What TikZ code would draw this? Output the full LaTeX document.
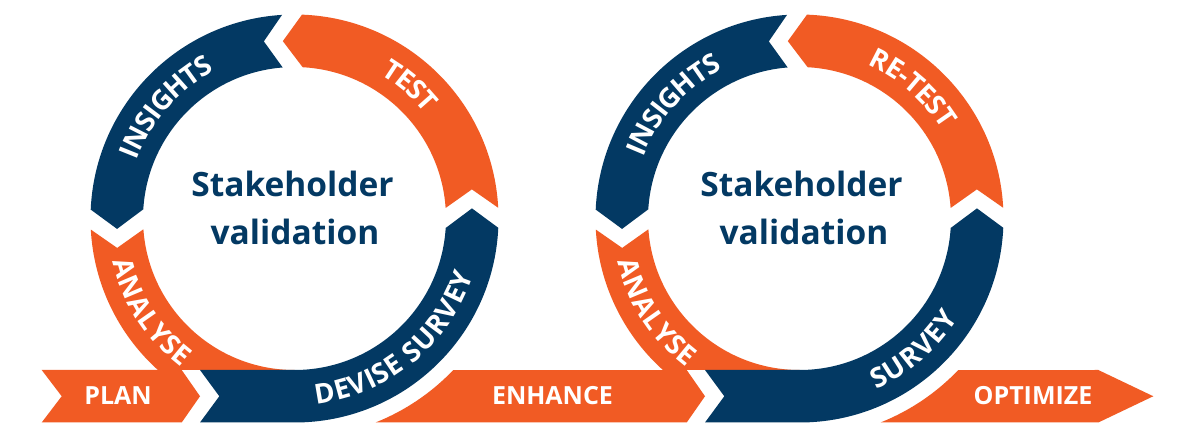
\documentclass[tikz,border=0pt]{standalone}
\usepackage{fontspec}
\setmainfont{Open Sans}
\usetikzlibrary{decorations.text}
\definecolor{corange}{RGB}{241,91,36}
\definecolor{cnavy}{RGB}{3,57,99}
\tikzset{
  orangeseg/.style={fill=corange, draw=none},
  navyseg/.style={fill=cnavy, draw=none},
  ringlabel/.style={decorate, decoration={text along path, text align=center,
      text color=white, raise=-9.6pt,
      text={|\fontsize{27.5}{27.5}\selectfont\bfseries|#1}}},
  centertext/.style={anchor=base, text=cnavy, font=\fontsize{33.5}{33.5}\selectfont\bfseries, inner sep=0pt},
  bannertext/.style={text=white, font=\fontsize{25}{25}\selectfont\bfseries, inner sep=0pt},
}
\begin{document}
\begin{tikzpicture}[x=1pt,y=1pt]
\fill[white] (0,0) rectangle (1200,442);
\useasboundingbox (0,0) rectangle (1200,442);

% ---------- circle 1 ----------
\begin{scope}[shift={(294.5,223.5)}]
  % ENHANCE banner
  \fill[orangeseg] (81.0,-204) arc[start angle=-68.33, end angle=-43.65, radius=219.5]
     -- (392.2,-151.5) -- (410.5,-177.75) -- (392.2,-204) -- cycle;
  % PLAN banner
  \fill[orangeseg] (-252.8,-151.5) -- (-112.8,-151.5) -- (-94.5,-177.75) -- (-112.8,-204)
     -- (-252.8,-204) -- (-232.8,-177.75) -- cycle;
  % TEST
  \fill[orangeseg] (3.009:204) arc[start angle=3.009, end angle=87.891, radius=204]
     -- (93.764:177.754) -- (86.916:151.5) arc[start angle=86.916, end angle=3.984, radius=151.5]
     -- (9.322:179.77) -- cycle;
  % INSIGHTS
  \fill[navyseg] (93.509:204) arc[start angle=93.509, end angle=177.491, radius=204]
     -- (183.364:177.754) -- (176.516:151.5) arc[start angle=176.516, end angle=94.484, radius=151.5]
     -- (99.822:179.77) -- cycle;
  % ANALYSE
  \begin{scope}
    \clip (-300,-151.5) rectangle (300,300);
    \fill[orangeseg] (183.109:204) arc[start angle=183.109, end angle=270, radius=204]
       -- (270:151.5) arc[start angle=270, end angle=184.084, radius=151.5]
       -- (189.422:179.77) -- cycle;
  \end{scope}
  % DEVISE SURVEY
  \fill[navyseg] (-94.5,-151.5) -- (-75.2,-177.75) -- (-94.5,-204) -- (0,-204)
     arc[start angle=270, end angle=357.391, radius=204]
     -- (363.264:177.754) -- (356.416:151.5) arc[start angle=356.416, end angle=270, radius=151.5]
     -- cycle;
  % ring labels
  \path[ringlabel=INSIGHTS] (174:177.5) arc[start angle=174, end angle=104, radius=177.5];
  \path[ringlabel=TEST] (84:177.5) arc[start angle=84, end angle=14, radius=177.5];
  \path[ringlabel=ANALYSE] (178:177.5) arc[start angle=178, end angle=248, radius=177.5];
  \path[ringlabel={DEVISE SURVEY}] (264.5:177.5) arc[start angle=264.5, end angle=354.5, radius=177.5];
  % centre text
  \node[centertext] (s1) at (-2,21.5) {Stakeholder};
  \node[centertext] (v1) at (0.5,-26.5) {validation};
  \node[bannertext] (plan) at (-176.5,-177.5) {PLAN};
  \node[bannertext] (enhance) at (258,-177.5) {ENHANCE};
\end{scope}

% ---------- circle 2 ----------
\begin{scope}[shift={(799.5,223.5)}]
  % OPTIMIZE banner
  \fill[orangeseg] (81.0,-204) arc[start angle=-68.33, end angle=-43.65, radius=219.5]
     -- (298.8,-151.5) -- (353.8,-177.75) -- (298.8,-204) -- cycle;
  % RE-TEST
  \fill[orangeseg] (3.009:204) arc[start angle=3.009, end angle=87.891, radius=204]
     -- (93.764:177.754) -- (86.916:151.5) arc[start angle=86.916, end angle=3.984, radius=151.5]
     -- (9.322:179.77) -- cycle;
  % INSIGHTS
  \fill[navyseg] (93.509:204) arc[start angle=93.509, end angle=177.491, radius=204]
     -- (183.364:177.754) -- (176.516:151.5) arc[start angle=176.516, end angle=94.484, radius=151.5]
     -- (99.822:179.77) -- cycle;
  % ANALYSE
  \begin{scope}
    \clip (-300,-151.5) rectangle (300,300);
    \fill[orangeseg] (183.109:204) arc[start angle=183.109, end angle=270, radius=204]
       -- (270:151.5) arc[start angle=270, end angle=184.084, radius=151.5]
       -- (189.422:179.77) -- cycle;
  \end{scope}
  % SURVEY
  \fill[navyseg] (-94.5,-151.5) -- (-75.2,-177.75) -- (-94.5,-204) -- (0,-204)
     arc[start angle=270, end angle=357.391, radius=204]
     -- (363.264:177.754) -- (356.416:151.5) arc[start angle=356.416, end angle=270, radius=151.5]
     -- cycle;
  % ring labels
  \path[ringlabel=INSIGHTS] (173:177.5) arc[start angle=173, end angle=103, radius=177.5];
  \path[ringlabel=RE-TEST] (84:177.5) arc[start angle=84, end angle=14, radius=177.5];
  \path[ringlabel=ANALYSE] (178:177.5) arc[start angle=178, end angle=248, radius=177.5];
  \path[ringlabel=SURVEY] (266:177.5) arc[start angle=266, end angle=356, radius=177.5];
  % centre text
  \node[centertext] (s2) at (2,21.5) {Stakeholder};
  \node[centertext] (v2) at (4.5,-26.5) {validation};
  \node[bannertext] (optimize) at (233.5,-177.5) {OPTIMIZE};
\end{scope}
\end{tikzpicture}
\end{document}
